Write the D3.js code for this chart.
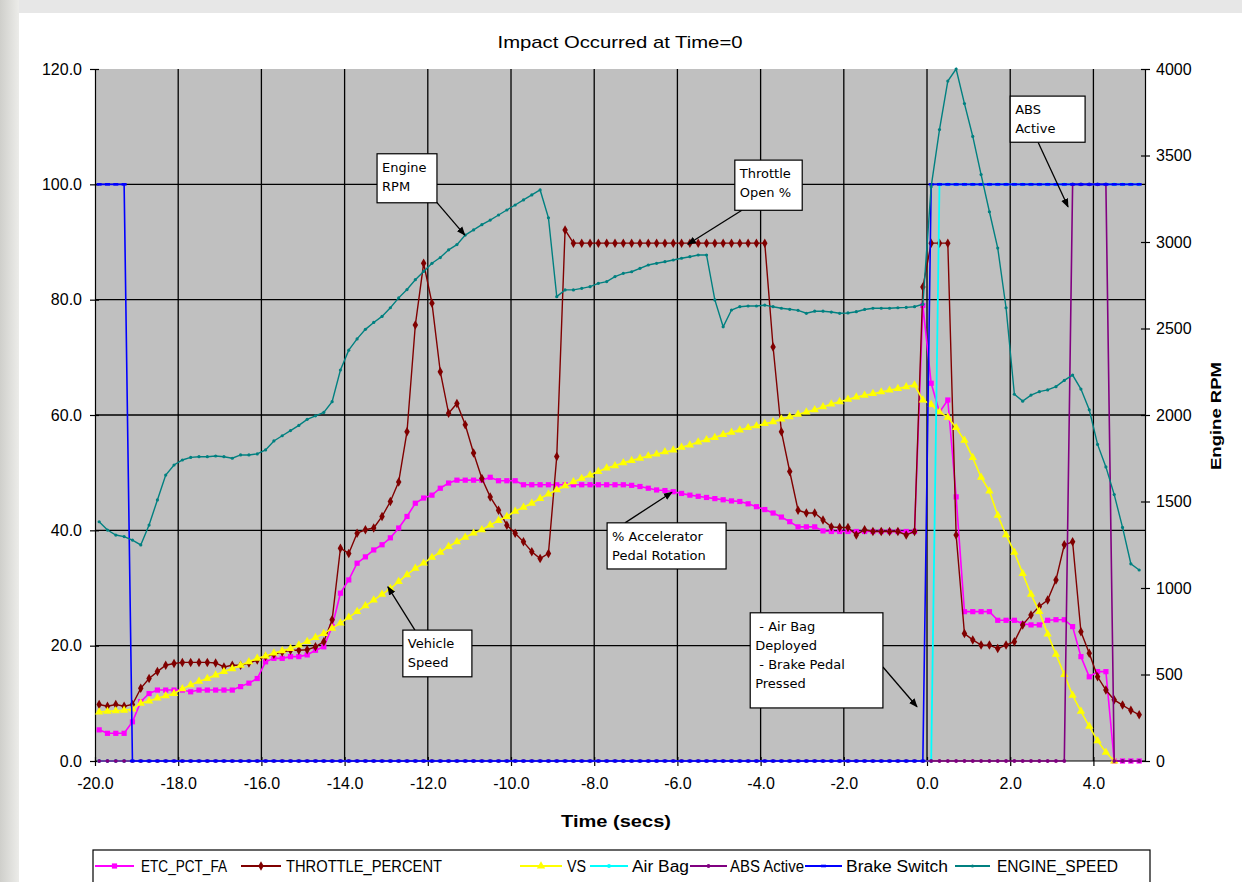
<!DOCTYPE html>
<html><head><meta charset="utf-8">
<script src="https://cdn.jsdelivr.net/npm/d3@7"></script>
<style>
body{margin:0;background:#fff;}
svg{display:block;}
</style></head><body>
<svg id="chart" width="1242" height="882"></svg>
<script>
// ---------- DATA ----------
const time = [
-19.9,-19.7,-19.5,-19.3,-19.1,-18.9,-18.7,-18.5,-18.3,-18.1,
-17.9,-17.7,-17.5,-17.3,-17.1,-16.9,-16.7,-16.5,-16.3,-16.1,
-15.9,-15.7,-15.5,-15.3,-15.1,-14.9,-14.7,-14.5,-14.3,-14.1,
-13.9,-13.7,-13.5,-13.3,-13.1,-12.9,-12.7,-12.5,-12.3,-12.1,
-11.9,-11.7,-11.5,-11.3,-11.1,-10.9,-10.7,-10.5,-10.3,-10.1,
-9.9,-9.7,-9.5,-9.3,-9.1,-8.9,-8.7,-8.5,-8.3,-8.1,
-7.9,-7.7,-7.5,-7.3,-7.1,-6.9,-6.7,-6.5,-6.3,-6.1,
-5.9,-5.7,-5.5,-5.3,-5.1,-4.9,-4.7,-4.5,-4.3,-4.1,
-3.9,-3.7,-3.5,-3.3,-3.1,-2.9,-2.7,-2.5,-2.3,-2.1,
-1.9,-1.7,-1.5,-1.3,-1.1,-0.9,-0.7,-0.5,-0.3,-0.1,
0.1,0.3,0.5,0.7,0.9,1.1,1.3,1.5,1.7,1.9,
2.1,2.3,2.5,2.7,2.9,3.1,3.3,3.5,3.7,3.9,
4.1,4.3,4.5,4.7,4.9,5.1];

const etcPctFa = [
5.4,4.8,4.8,4.8,6.8,10.3,11.7,12.3,12.3,12.3,
12.3,12.0,12.3,12.3,12.3,12.3,12.3,12.9,13.5,14.3,
17.2,17.8,17.8,18.1,18.1,18.4,19.2,19.8,23.3,29.1,
31.4,34.3,35.4,36.6,37.5,38.7,40.4,42.4,44.7,45.6,
46.1,47.3,48.2,48.7,48.7,48.7,48.7,49.2,48.6,48.6,
48.6,47.9,47.9,47.9,47.9,47.9,47.9,47.9,47.9,47.9,
47.9,47.9,47.9,47.9,47.8,47.6,47.3,47.0,46.9,46.7,
46.4,46.1,45.9,45.7,45.5,45.3,45.1,45.0,44.6,44.1,
43.6,43.0,42.3,41.5,40.6,40.6,40.6,39.9,39.8,39.8,
39.8,39.8,39.8,39.8,39.8,39.8,39.8,39.8,39.8,79.0,
65.5,60.5,62.6,45.8,25.9,25.9,25.9,25.9,24.4,24.4,
24.4,23.8,23.6,23.6,24.4,24.5,24.5,23.3,18.1,14.6,
15.5,15.5,0,0,0,0];

const throttlePercent = [
9.8,9.5,9.8,9.5,9.8,12.6,14.3,15.5,16.6,16.9,
17.1,17.1,17.1,17.1,17.0,16.3,16.6,16.6,17.0,17.5,
18.1,18.5,18.9,19.2,19.2,19.3,19.8,20.7,24.5,36.9,
36.0,39.5,40.1,40.4,42.4,45.0,48.4,57.1,75.6,86.3,
79.4,67.5,60.3,62.0,58.3,53.4,49.0,45.8,43.5,40.9,
39.5,38.0,36.3,35.1,36.0,52.8,92.1,89.8,89.8,89.8,
89.8,89.8,89.8,89.8,89.8,89.8,89.8,89.8,89.8,89.8,
89.8,89.8,89.8,89.8,89.8,89.8,89.8,89.8,89.8,89.8,
89.8,71.8,57.1,50.2,43.5,43.0,43.0,41.8,40.6,40.5,
40.5,39.2,40.1,39.8,39.8,39.8,39.8,39.2,39.8,82.2,
89.8,89.8,89.8,39.2,22.1,21.0,20.1,20.1,19.5,20.1,
20.7,23.6,25.3,26.8,27.9,31.4,37.5,38.0,22.4,18.7,
14.6,12.3,10.6,9.7,8.8,8.0];

const vehicleSpeed = [
8.5,8.6,8.7,8.8,9.0,10.0,10.4,10.9,11.3,11.7,
12.5,13.2,13.8,14.3,14.9,15.5,16.0,16.6,17.2,17.8,
18.2,18.7,19.1,19.5,20.1,20.7,21.4,22.1,23.0,23.9,
24.9,25.9,26.9,27.9,28.9,29.9,31.1,32.3,33.4,34.3,
35.3,36.2,37.2,38.0,38.8,39.5,40.1,40.9,41.7,42.4,
43.3,44.0,44.7,45.5,46.3,47.0,47.7,48.4,49.0,49.6,
50.2,50.8,51.2,51.7,52.1,52.5,52.9,53.2,53.6,53.9,
54.4,54.8,55.3,55.7,56.1,56.6,57.0,57.4,57.8,58.1,
58.5,58.8,59.3,59.7,60.1,60.5,60.9,61.4,61.9,62.3,
62.7,63.1,63.4,63.7,64.0,64.3,64.6,64.9,65.2,62.6,
61.8,60.5,59.6,57.8,55.6,52.6,49.2,46.8,42.6,39.2,
36.2,32.5,28.9,25.9,22.0,18.5,15.0,11.4,8.6,6.0,
3.5,1.5,0,null,null,null];

const airBag = [
0,0,0,0,0,0,0,0,0,0, 0,0,0,0,0,0,0,0,0,0,
0,0,0,0,0,0,0,0,0,0, 0,0,0,0,0,0,0,0,0,0,
0,0,0,0,0,0,0,0,0,0, 0,0,0,0,0,0,0,0,0,0,
0,0,0,0,0,0,0,0,0,0, 0,0,0,0,0,0,0,0,0,0,
0,0,0,0,0,0,0,0,0,0, 0,0,0,0,0,0,0,0,0,0,
0,100,100,100,100,100,100,100,100,100,
100,100,100,100,100,100,100,100,100,100,
100,100,100,100,100,100];

const absActive = [
0,0,0,0,0,0,0,0,0,0, 0,0,0,0,0,0,0,0,0,0,
0,0,0,0,0,0,0,0,0,0, 0,0,0,0,0,0,0,0,0,0,
0,0,0,0,0,0,0,0,0,0, 0,0,0,0,0,0,0,0,0,0,
0,0,0,0,0,0,0,0,0,0, 0,0,0,0,0,0,0,0,0,0,
0,0,0,0,0,0,0,0,0,0, 0,0,0,0,0,0,0,0,0,0,
0,0,0,0,0,0,0,0,0,0,
0,0,0,0,0,0,0,100,100,100,
100,100,0,0,0,0];

const brakeSwitch = [
100,100,100,100,0,0,0,0,0,0, 0,0,0,0,0,0,0,0,0,0,
0,0,0,0,0,0,0,0,0,0, 0,0,0,0,0,0,0,0,0,0,
0,0,0,0,0,0,0,0,0,0, 0,0,0,0,0,0,0,0,0,0,
0,0,0,0,0,0,0,0,0,0, 0,0,0,0,0,0,0,0,0,0,
0,0,0,0,0,0,0,0,0,0, 0,0,0,0,0,0,0,0,0,0,
100,100,100,100,100,100,100,100,100,100,
100,100,100,100,100,100,100,100,100,100,
100,100,100,100,100,100];

const engineSpeed = [
1383,1335,1306,1297,1277,1249,1364,1509,1653,1711,
1740,1755,1759,1759,1763,1759,1750,1769,1769,1775,
1798,1850,1880,1910,1940,1975,1995,2015,2077,2260,
2375,2440,2495,2535,2570,2620,2677,2725,2782,2830,
2877,2910,2955,2985,3040,3070,3100,3127,3156,3185,
3214,3243,3272,3301,3140,2684,2723,2723,2732,2742,
2761,2771,2800,2819,2828,2848,2867,2877,2886,2896,
2906,2915,2925,2925,2665,2510,2607,2626,2630,2630,
2635,2626,2617,2611,2605,2588,2600,2600,2595,2588,
2590,2597,2610,2617,2617,2617,2620,2622,2626,2640,
3320,3650,3930,4000,3800,3610,3390,3175,2965,2620,
2120,2080,2115,2135,2145,2164,2200,2231,2150,2030,
1830,1700,1540,1350,1140,1104];

const seriesNames = ["ETC_PCT_FA","THROTTLE_PERCENT","VS","Air Bag","ABS Active","Brake Switch","ENGINE_SPEED"];
const xTickValues = [-20,-18,-16,-14,-12,-10,-8,-6,-4,-2,0,2,4];
const yLeftTickValues = [0,20,40,60,80,100,120];
const yRightTickValues = [0,500,1000,1500,2000,2500,3000,3500,4000];

// ---------- LAYOUT ----------
const svg = d3.select("#chart");
const plot = {left:95, right:1145, top:69, bottom:761};
const x = d3.scaleLinear().domain([-20, 5.24]).range([plot.left, plot.right]);
const yL = d3.scaleLinear().domain([0, 120]).range([plot.bottom, plot.top]);
const yR = d3.scaleLinear().domain([0, 4000]).range([plot.bottom, plot.top]);

// page decoration (screenshot frame)
const defs = svg.append("defs");
const lg = defs.append("linearGradient").attr("id","leftband").attr("x1",0).attr("x2",1);
lg.append("stop").attr("offset",0).attr("stop-color","#cfcfcb");
lg.append("stop").attr("offset",1).attr("stop-color","#ecece9");
svg.append("rect").attr("width",1242).attr("height",882).attr("fill","#fff");
svg.append("rect").attr("x",0).attr("y",0).attr("width",1242).attr("height",13).attr("fill","#e7e7e7");
svg.append("rect").attr("x",0).attr("y",0).attr("width",19).attr("height",882).attr("fill","url(#leftband)");
svg.append("rect").attr("x",19).attr("y",13).attr("width",1223).attr("height",869).attr("fill","#fff");

defs.append("marker").attr("id","arrow").attr("viewBox","0 0 10 10").attr("refX",9).attr("refY",5)
  .attr("markerWidth",9).attr("markerHeight",9).attr("orient","auto-start-reverse").attr("markerUnits","userSpaceOnUse")
  .append("path").attr("d","M0,1 L10,5 L0,9 Z").attr("fill","#000");

// plot area
svg.append("rect").attr("x",plot.left).attr("y",plot.top)
  .attr("width",plot.right-plot.left).attr("height",plot.bottom-plot.top).attr("fill","#c0c0c0");

// gridlines
const grid = svg.append("g").attr("stroke","#000").attr("stroke-width",1.3);
grid.selectAll("line.v").data(xTickValues.filter(d=>d>-20)).join("line")
  .attr("x1",d=>x(d)).attr("x2",d=>x(d)).attr("y1",plot.top).attr("y2",plot.bottom);
grid.selectAll("line.h").data(yLeftTickValues.filter(d=>d>0 && d<120)).join("line")
  .attr("x1",plot.left).attr("x2",plot.right).attr("y1",d=>yL(d)).attr("y2",d=>yL(d));

// axes
const tickFont = "'Liberation Sans', Arial, sans-serif";
const gx = svg.append("g").attr("transform",`translate(0,${plot.bottom})`)
  .call(d3.axisBottom(x).tickValues(xTickValues).tickFormat(d=>d.toFixed(1)).tickSizeInner(5).tickSizeOuter(0).tickPadding(12));
gx.selectAll(".tick line").attr("y1",-4);
const gl = svg.append("g").attr("transform",`translate(${plot.left},0)`)
  .call(d3.axisLeft(yL).tickValues(yLeftTickValues).tickFormat(d=>d.toFixed(1)).tickSizeInner(5).tickSizeOuter(0).tickPadding(8));
gl.selectAll(".tick line").attr("x1",4);
const gr = svg.append("g").attr("transform",`translate(${plot.right},0)`)
  .call(d3.axisRight(yR).tickValues(yRightTickValues).tickFormat(d3.format("d")).tickSizeInner(5).tickSizeOuter(0).tickPadding(6));
gr.selectAll(".tick line").attr("x1",-4);
[gx,gl,gr].forEach(g=>{
  g.selectAll("text").attr("font-family",tickFont).attr("font-size",16).attr("fill","#000");
  g.selectAll("line,path").attr("stroke","#000").attr("stroke-width",1.2);
});
gx.select(".domain").attr("d",`M${plot.left},0H${plot.right}`);

// titles
svg.append("text").attr("x",620).attr("y",48).attr("text-anchor","middle")
  .attr("font-family",tickFont).attr("font-size",17).attr("textLength",245).attr("lengthAdjust","spacingAndGlyphs")
  .text("Impact Occurred at Time=0");
svg.append("text").attr("x",616).attr("y",827).attr("text-anchor","middle")
  .attr("font-family",tickFont).attr("font-size",17).attr("font-weight","bold")
  .attr("textLength",110).attr("lengthAdjust","spacingAndGlyphs").text("Time (secs)");
svg.append("text").attr("transform","translate(1221,416) rotate(-90)").attr("text-anchor","middle")
  .attr("font-family",tickFont).attr("font-size",15).attr("font-weight","bold")
  .attr("textLength",108).attr("lengthAdjust","spacingAndGlyphs").text("Engine RPM");

// ---------- SERIES ----------
const series = [
  {name:seriesNames[0], values:etcPctFa,       scale:yL, color:"#ff00ff", marker:"square",   lw:1.6},
  {name:seriesNames[1], values:throttlePercent, scale:yL, color:"#800000", marker:"diamond",  lw:1.4},
  {name:seriesNames[2], values:vehicleSpeed,    scale:yL, color:"#ffff00", marker:"triangle", lw:1.6},
  {name:seriesNames[3], values:airBag,          scale:yL, color:"#00ffff", marker:"dot",      lw:1.8},
  {name:seriesNames[4], values:absActive,       scale:yL, color:"#800080", marker:"dot",      lw:1.6},
  {name:seriesNames[5], values:brakeSwitch,     scale:yL, color:"#0000ff", marker:"dash",     lw:1.6},
  {name:seriesNames[6], values:engineSpeed,     scale:yR, color:"#008080", marker:"small",    lw:1.4}
];

function drawMarker(sel, type, color){
  if(type==="square") sel.append("rect").attr("x",-2.6).attr("y",-2.6).attr("width",5.2).attr("height",5.2).attr("fill",color);
  else if(type==="diamond") sel.append("path").attr("d",d3.symbol(d3.symbolDiamond,26)()).attr("fill",color);
  else if(type==="triangle") sel.append("path").attr("d",d3.symbol(d3.symbolTriangle,30)()).attr("fill",color);
  else if(type==="dot") sel.append("circle").attr("r",1.9).attr("fill",color);
  else if(type==="dash") sel.append("rect").attr("x",-2.5).attr("y",-1.3).attr("width",5).attr("height",2.6).attr("fill",color);
  else sel.append("circle").attr("r",1.6).attr("fill",color);
}

const gSeries = svg.append("g");
series.forEach(s=>{
  const pts = s.values.map((v,i)=>({t:time[i], v:v})).filter(d=>d.v!==null);
  const line = d3.line().x(d=>x(d.t)).y(d=>s.scale(d.v));
  const g = gSeries.append("g");
  g.append("path").attr("d",line(pts)).attr("fill","none").attr("stroke",s.color).attr("stroke-width",s.lw);
  g.selectAll("g.m").data(pts).join("g").attr("transform",d=>`translate(${x(d.t)},${s.scale(d.v)})`)
    .each(function(){ drawMarker(d3.select(this), s.marker, s.color); });
});

// ---------- ANNOTATIONS (positioned in data units) ----------
const annotations = [
  {lines:["Engine","RPM"], box:[-13.22,105.3,-11.78,96.8], from:[-11.8,97.0], to:[-11.11,91.2]},
  {lines:["Throttle","Open %"], box:[-4.62,104.2,-3.0,95.5], from:[-4.45,95.5], to:[-5.75,89.6]},
  {lines:["ABS","Active"], box:[2.0,115.3,3.8,107.3], from:[2.67,107.3], to:[3.39,96.1]},
  {lines:["% Accelerator","Pedal Rotation"], box:[-7.69,41.3,-4.83,33.3], from:[-7.26,41.3], to:[-6.13,46.6]},
  {lines:["Vehicle","Speed"], box:[-12.6,22.7,-10.94,14.6], from:[-12.31,22.7], to:[-12.96,30.2]},
  {lines:[" - Air Bag","Deployed"," - Brake Pedal","Pressed"], box:[-4.25,25.7,-1.06,9.2], from:[-1.06,16.3], to:[-0.24,9.4]}
];
const gA = svg.append("g");
annotations.forEach(a=>{
  gA.append("line").attr("x1",x(a.from[0])).attr("y1",yL(a.from[1])).attr("x2",x(a.to[0])).attr("y2",yL(a.to[1]))
    .attr("stroke","#000").attr("stroke-width",1.3).attr("marker-end","url(#arrow)");
  const bx = x(a.box[0]), by = yL(a.box[1]), bw = x(a.box[2])-bx, bh = yL(a.box[3])-by;
  gA.append("rect").attr("x",bx).attr("y",by).attr("width",bw).attr("height",bh)
    .attr("fill","#fff").attr("stroke","#000").attr("stroke-width",1.2);
  a.lines.forEach((l,i)=>{
    gA.append("text").attr("x",bx+5).attr("y",by+18+i*19).attr("xml:space","preserve")
      .attr("font-family","'DejaVu Sans', Verdana, sans-serif").attr("font-size",13).text(l);
  });
});

// ---------- LEGEND ----------
const legendLayout = [
  {m0:95,  m1:134, tx:141, tl:86},
  {m0:241, m1:281, tx:286, tl:156},
  {m0:520, m1:562, tx:567, tl:19},
  {m0:590, m1:628, tx:632, tl:57},
  {m0:690, m1:727, tx:730, tl:74},
  {m0:805, m1:842, tx:846, tl:102},
  {m0:955, m1:990, tx:997, tl:121}
];
svg.append("rect").attr("x",93).attr("y",850).attr("width",1057).attr("height",45)
  .attr("fill","#fff").attr("stroke","#000").attr("stroke-width",1.2);
series.forEach((s,i)=>{
  const L = legendLayout[i], ly = 866;
  svg.append("line").attr("x1",L.m0).attr("x2",L.m1).attr("y1",ly).attr("y2",ly).attr("stroke",s.color).attr("stroke-width",2);
  const mg = svg.append("g").attr("transform",`translate(${(L.m0+L.m1)/2},${ly})`);
  drawMarker(mg, s.marker, s.color);
  svg.append("text").attr("x",L.tx).attr("y",ly+6).attr("font-family","'Liberation Sans Narrow', 'Liberation Sans', Arial, sans-serif")
    .attr("font-size",16).attr("textLength",L.tl).attr("lengthAdjust","spacingAndGlyphs").text(s.name);
});
</script>
</body></html>
